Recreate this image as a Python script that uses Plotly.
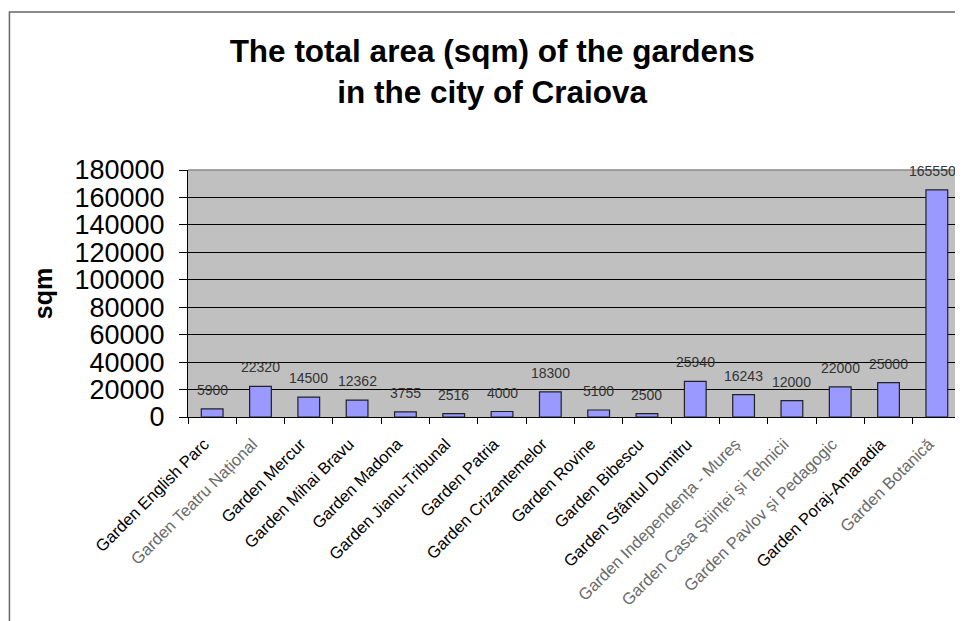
import plotly.graph_objects as go

categories = [
    "Garden English Parc", "Garden Teatru Național", "Garden Mercur",
    "Garden Mihai Bravu", "Garden Madona", "Garden Jianu-Tribunal",
    "Garden Patria", "Garden Crizantemelor", "Garden Rovine",
    "Garden Bibescu", "Garden Sfântul Dumitru", "Garden Independența - Mureș",
    "Garden Casa Științei și Tehnicii", "Garden Pavlov și Pedagogic",
    "Garden Poraj-Amaradia", "Garden Botanică",
]
areas = [5900, 22320, 14500, 12362, 3755, 2516, 4000, 18300, 5100, 2500,
         25940, 16243, 12000, 22000, 25000, 165550]
light_labels = {1, 11, 12, 13, 15}
tick_text = [
    f'<span style="color:#6a6a6a">{c}</span>' if i in light_labels else c
    for i, c in enumerate(categories)
]
y_ticks = [0, 20000, 40000, 60000, 80000, 100000, 120000, 140000, 160000, 180000]

fig = go.Figure(go.Bar(
    x=categories,
    y=areas,
    marker=dict(color="#9999FF", line=dict(color="#222222", width=1.2)),
    cliponaxis=False,
))

annotations = [
    dict(x=c, y=v, xref="x", yref="y", text=str(v), showarrow=False,
         yanchor="bottom", yshift=9, xshift=(-4 if i == len(areas) - 1 else 0),
         font=dict(family="Arial, Liberation Sans", size=14, color="#333333"))
    for i, (c, v) in enumerate(zip(categories, areas))
]

fig.update_layout(
    width=955, height=613,
    margin=dict(l=180, r=2, t=162, b=204, autoexpand=False),
    paper_bgcolor="white",
    plot_bgcolor="#C0C0C0",
    bargap=0.55,
    showlegend=False,
    font=dict(family="Arial, Liberation Sans", color="black"),
    title=dict(
        text="<b>The total area (sqm) of the gardens<br>in the city of Craiova</b>",
        x=0.507, xanchor="center", y=0.912, yanchor="middle",
        font=dict(family="Arial, Liberation Sans", size=31.5, color="black"),
    ),
    xaxis=dict(
        tickmode="array", tickvals=categories, ticktext=tick_text,
        tickangle=-45, automargin=False,
        tickfont=dict(family="Arial, Liberation Sans", size=16.5, color="black"),
        ticks="outside", tickson="boundaries", ticklen=6, tickcolor="black",
        ticklabelstandoff=10, ticklabelshift=-8,
        showline=True, linecolor="black", linewidth=1,
        showgrid=False,
    ),
    yaxis=dict(
        range=[0, 180000], automargin=False,
        tickvals=y_ticks,
        ticktext=[str(v) for v in y_ticks],
        tickfont=dict(family="Arial, Liberation Sans", size=27, color="black"),
        ticks="outside", ticklen=8, tickcolor="black",
        ticklabelstandoff=9,
        showline=True, linecolor="black", linewidth=1,
        showgrid=True, gridcolor="black", gridwidth=1,
        zeroline=False,
        title=dict(text="<b>sqm</b>", standoff=14,
                   font=dict(family="Arial, Liberation Sans", size=25, color="black")),
    ),
    annotations=annotations,
    shapes=[
        dict(type="rect", xref="paper", yref="paper",
             x0=-0.231, x1=2.0, y0=-2.0, y1=1.64,
             line=dict(color="#666666", width=1.5), fillcolor="rgba(0,0,0,0)",
             layer="below"),
        dict(type="line", xref="paper", yref="paper",
             x0=0, x1=1, y0=1, y1=1,
             line=dict(color="#8a8a8a", width=1.5)),
    ],
)

fig.write_html("out.html")
